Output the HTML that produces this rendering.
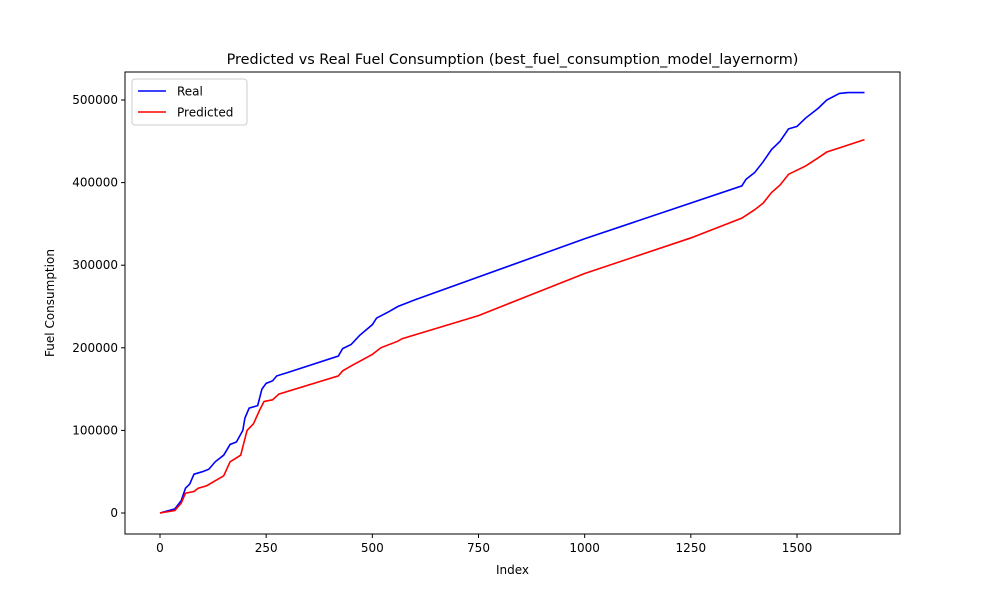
<!DOCTYPE html>
<html><head><meta charset="utf-8"><style>body{margin:0;background:#fff}svg{font-family:"DejaVu Sans","Liberation Sans",sans-serif}</style></head>
<body>
<svg id="chart" width="1000" height="600"></svg>
<script>
const realX=[0,35,50,60,70,80,100,115,130,150,165,180,195,200,210,230,240,250,265,275,300,420,430,450,470,500,510,540,560,600,1000,1370,1380,1400,1420,1440,1460,1480,1500,1520,1550,1570,1600,1620,1659];
const realY=[0,5000,15000,30000,35000,47000,50000,53000,62000,70000,83000,86000,100000,115000,127000,130000,150000,157000,160000,166000,170000,190000,199000,204000,215000,228000,236000,244000,250000,258000,332000,396000,404000,412000,425000,440000,450000,465000,468000,478000,490000,500000,508000,509000,509000];
const predX=[0,35,50,60,80,90,110,150,165,190,200,205,220,235,245,265,280,420,430,450,500,520,560,570,750,1000,1250,1370,1400,1420,1440,1460,1480,1500,1520,1550,1570,1600,1659];
const predY=[0,3000,12000,24000,26000,30000,33000,45000,62000,70000,90000,100000,108000,125000,135000,137000,144000,166000,172000,178000,192000,200000,208000,211000,239000,290000,333000,357000,367000,375000,388000,397000,410000,415000,420000,430000,437000,442000,452000];
const xTicks=[0,250,500,750,1000,1250,1500];
const yTicks=[0,100000,200000,300000,400000,500000];
const L=125,R=900,T=72,B=534;
const sx=v=>160+v*(797-160)/1500;
const sy=v=>513-v*(513-100)/500000;
const svg=document.getElementById('chart');
const NS='http://www.w3.org/2000/svg';
function mk(tag,attrs,parent){const e=document.createElementNS(NS,tag);for(const k in attrs)e.setAttribute(k,attrs[k]);(parent||svg).appendChild(e);return e;}
function txt(s,attrs){const e=mk('text',attrs);e.textContent=s;return e;}
const frame=mk('rect',{x:L,y:T,width:R-L,height:B-T,fill:'none',stroke:'#000','stroke-width':1});


xTicks.forEach(t=>{const x=sx(t);
const tk=mk('line',{x1:x,x2:x,y1:B,y2:B+4,stroke:'#000'});


const lb=txt(String(t),{x:x,y:B+18,'text-anchor':'middle','font-size':12});

});
yTicks.forEach(t=>{const y=sy(t);
const tk=mk('line',{x1:L-4,x2:L,y1:y,y2:y,stroke:'#000'});


const lb=txt(String(t),{x:L-7,y:y+4,'text-anchor':'end','font-size':12});

});
function line(xs,ys,c,name){const p=mk('polyline',{points:xs.map((x,i)=>sx(x)+','+sy(ys[i])).join(' '),fill:'none',stroke:c,'stroke-width':1.6});

}
line(realX,realY,'#0000ff','real-line');
line(predX,predY,'#ff0000','predicted-line');
const ti=txt('Predicted vs Real Fuel Consumption (best_fuel_consumption_model_layernorm)',{x:(L+R)/2,y:64,'text-anchor':'middle','font-size':14.4});


const xl=txt('Index',{x:(L+R)/2,y:574,'text-anchor':'middle','font-size':12});


const yl=txt('Fuel Consumption',{x:54,y:303,'text-anchor':'middle','font-size':12,transform:'rotate(-90 54 303)'});


const lg=mk('rect',{x:132,y:79,width:115,height:46,fill:'#fff',stroke:'#ccc',rx:3});


[['Real','#0000ff',91],['Predicted','#ff0000',112]].forEach(([n,c,y])=>{
const l=mk('line',{x1:138,x2:166,y1:y,y2:y,stroke:c,'stroke-width':1.6});


const t=txt(n,{x:177,y:y+4.5,'font-size':12});

});
</script>
</body></html>
